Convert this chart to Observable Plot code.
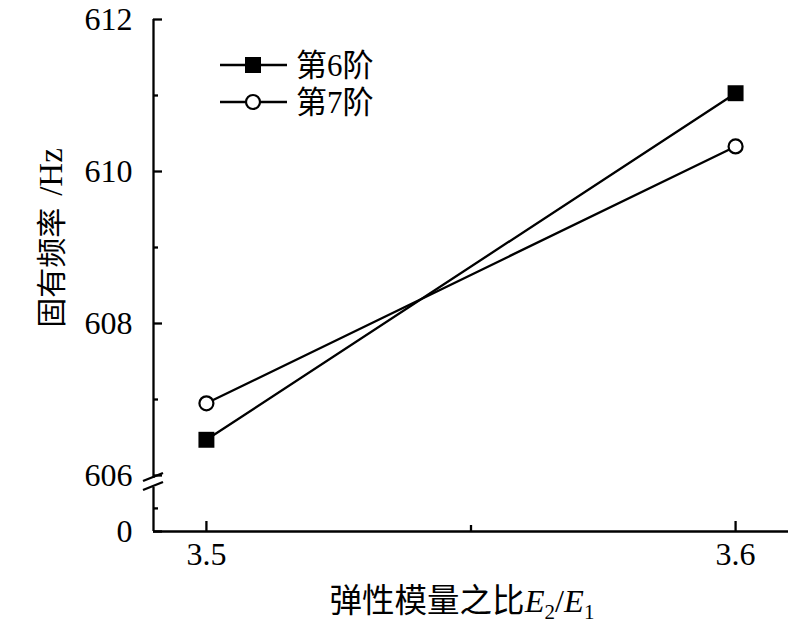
<!DOCTYPE html>
<html>
<head>
<meta charset="utf-8">
<script src="https://cdn.jsdelivr.net/npm/d3@7"></script>
<script src="https://cdn.jsdelivr.net/npm/@observablehq/plot@0.6"></script>
<style>
  html, body { margin: 0; padding: 0; background: #fff; }
  #chart { width: 804px; height: 630px; }
</style>
</head>
<body>
<div id="chart"></div>
<script>
// ---- data ----
const ratios = [3.5, 3.6];                 // 弹性模量之比 E2/E1
const mode6 = [606.47, 611.03];            // 第6阶 固有频率 (Hz)
const mode7 = [606.95, 610.33];            // 第7阶 固有频率 (Hz)
const seriesNames = ["第6阶", "第7阶"];
const xMajorTicks = [3.5, 3.6];
const xMinorTicks = [3.55];
const yMajorTicks = [0, 606, 608, 610, 612];
const yMinorTicks = [250, 607, 609, 611];
const yDomain = [0, 606, 612];             // broken axis: 0 | break | 606..612
const xDomain = [3.49, 3.61];

const rows = [];
ratios.forEach((r, i) => {
  rows.push({series: seriesNames[0], x: r, y: mode6[i]});
  rows.push({series: seriesNames[1], x: r, y: mode7[i]});
});
const s6 = rows.filter(d => d.series === seriesNames[0]);
const s7 = rows.filter(d => d.series === seriesNames[1]);

const W = 804, H = 630, mL = 153, mR = 16, mT = 19, mB = 99;
const SW = 2.3;
const font = "'Liberation Serif', 'Times New Roman', 'Noto Sans CJK SC', serif";
const TICK_FS = 32;

const chart = Plot.plot({
  width: W, height: H,
  marginLeft: mL, marginRight: mR, marginTop: mT, marginBottom: mB,
  style: {fontFamily: font, fontSize: TICK_FS + "px", color: "#000", background: "#fff"},
  x: {type: "linear", domain: xDomain, axis: null},
  y: {type: "linear", domain: yDomain, range: [H - mB, H - mB - 56, mT], axis: null},
  marks: [
    Plot.ruleX([xDomain[0]], {y1: yDomain[0], y2: yDomain[2], stroke: "#000", strokeWidth: SW}),
    Plot.ruleY([yDomain[0]], {x1: xDomain[0], x2: xDomain[1], stroke: "#000", strokeWidth: SW}),
    Plot.axisY(yMajorTicks, {anchor: "left", tickSize: -9, tickPadding: 30, strokeWidth: SW, fontSize: TICK_FS, tickFormat: d => String(d), label: null}),
    Plot.axisY(yMinorTicks, {anchor: "left", tickSize: -5, strokeWidth: SW, tickFormat: () => "", label: null}),
    Plot.axisX(xMajorTicks, {anchor: "bottom", tickSize: -10, tickPadding: 21, strokeWidth: SW, fontSize: TICK_FS, tickFormat: d => d.toFixed(1), label: null}),
    Plot.axisX(xMinorTicks, {anchor: "bottom", tickSize: -6, strokeWidth: SW, tickFormat: () => "", label: null}),
    Plot.line(s6, {x: "x", y: "y", stroke: "#000", strokeWidth: SW}),
    Plot.line(s7, {x: "x", y: "y", stroke: "#000", strokeWidth: SW}),
    Plot.dot(s6, {x: "x", y: "y", symbol: "square", r: 9, fill: "#000", stroke: "none"}),
    Plot.dot(s7, {x: "x", y: "y", symbol: "circle", r: 7, fill: "#fff", stroke: "#000", strokeWidth: 2.2})
  ]
});
document.getElementById("chart").appendChild(chart);

// ---- decorations: axis break, axis titles, legend ----
const svg = d3.select(chart);
const sx = chart.scale("x"), sy = chart.scale("y");
const x0 = sx.apply(xDomain[0]);
const yb = sy.apply(yDomain[1]);
const g = svg.append("g");
g.append("rect").attr("x", x0 - 3).attr("y", yb + 3).attr("width", 6).attr("height", 9).attr("fill", "#fff");
[[6, -2], [15, 7]].forEach(([a, b]) => {
  g.append("line").attr("x1", x0 - 10).attr("y1", yb + a).attr("x2", x0 + 10).attr("y2", yb + b)
    .attr("stroke", "#000").attr("stroke-width", SW);
});

// x title
const xt = svg.append("text")
  .attr("x", 462).attr("y", 612)
  .attr("text-anchor", "middle")
  .attr("font-family", font).attr("font-size", 32.5).attr("fill", "#000");
xt.append("tspan").text("弹性模量之比");
xt.append("tspan").attr("font-style", "italic").text("E");
xt.append("tspan").attr("font-size", 21).attr("dy", 7).text("2");
xt.append("tspan").attr("dy", -7).text("/");
xt.append("tspan").attr("font-style", "italic").text("E");
xt.append("tspan").attr("font-size", 21).attr("dy", 7).text("1");

// y title
const yt = svg.append("text")
  .attr("transform", "translate(62,238) rotate(-90)")
  .attr("text-anchor", "middle")
  .attr("font-family", font).attr("font-size", 30).attr("fill", "#000");
yt.append("tspan").text("固有频率");
yt.append("tspan").attr("dx", 12).attr("font-size", 33).text("/Hz");

// legend
const lg = svg.append("g");
const legendY = [65, 102];
seriesNames.forEach((name, i) => {
  const y = legendY[i];
  lg.append("line").attr("x1", 220).attr("x2", 287).attr("y1", y).attr("y2", y)
    .attr("stroke", "#000").attr("stroke-width", SW);
  if (i === 0) {
    lg.append("rect").attr("x", 253 - 8).attr("y", y - 8).attr("width", 16).attr("height", 16).attr("fill", "#000");
  } else {
    lg.append("circle").attr("cx", 253).attr("cy", y).attr("r", 7).attr("fill", "#fff")
      .attr("stroke", "#000").attr("stroke-width", 2.2);
  }
  lg.append("text").attr("x", 296).attr("y", y).attr("dy", "0.36em")
    .attr("text-anchor", "start")
    .attr("font-family", font).attr("font-size", 31).attr("fill", "#000").text(name);
});
</script>
</body>
</html>
